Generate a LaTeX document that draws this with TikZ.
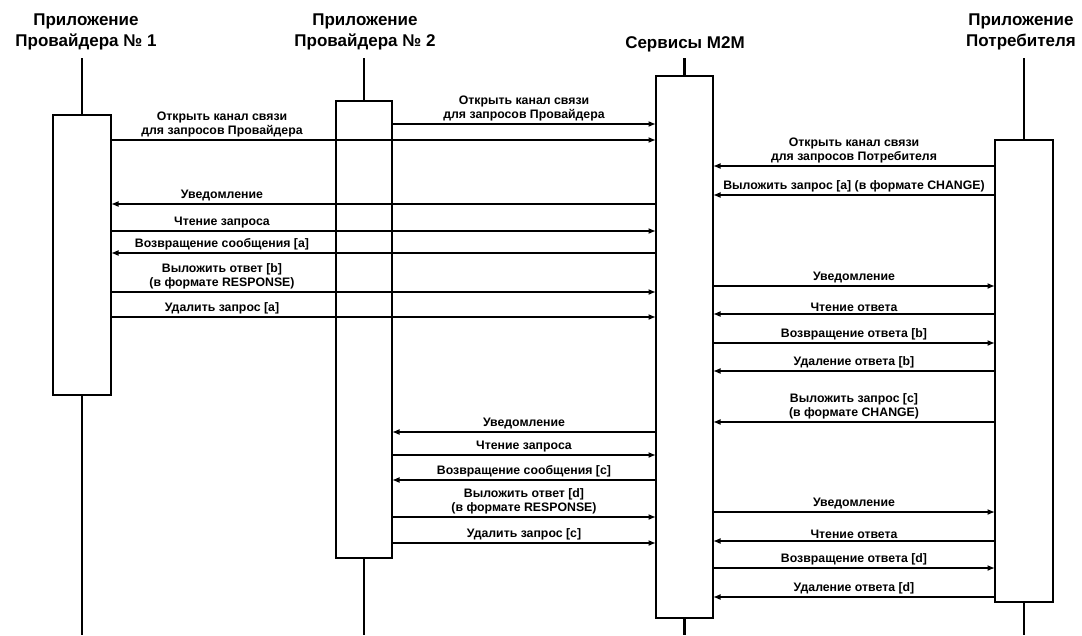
\documentclass[tikz,border=0pt]{standalone}
\usepackage{fontspec}
\setmainfont{Liberation Sans}
\usetikzlibrary{arrows.meta}
\begin{document}
\begin{tikzpicture}[x=1pt,y=-1pt,
  life/.style={line width=2.2pt},
  actbox/.style={draw, line width=2.4pt, fill=white, inner sep=0pt, outer sep=0pt},
  msg/.style={line width=2pt, -{Latex[length=7.5pt,width=6pt]}},
  lbl/.style={font=\fontsize{12.3}{14}\selectfont\bfseries, align=center, anchor=south, inner sep=1.5pt},
  hdr/.style={font=\fontsize{17}{20.5}\selectfont\bfseries, align=center, inner sep=0pt}]
\useasboundingbox (0,0) rectangle (1082,635);

% headers
\node[hdr] (h1) at (86,32) {Приложение\\Провайдера № 1};
\node[hdr] (h2) at (365,32) {Приложение\\Провайдера № 2};
\node[hdr] (h3) at (685,44) {Сервисы М2М};
\node[hdr] (h4) at (1021,32) {Приложение\\Потребителя};

% lifelines
\coordinate (t1) at (82,58);  \coordinate (e1) at (82,635);
\coordinate (t2) at (364,58); \coordinate (e2) at (364,635);
\coordinate (t3) at (684.5,58); \coordinate (e3) at (684.5,635);
\coordinate (t4) at (1024,58); \coordinate (e4) at (1024,635);
\draw[life] (t1) -- (e1);
\draw[life] (t2) -- (e2);
\draw[life] (t3) -- (e3);
\draw[life] (t4) -- (e4);

% activation boxes
\node[actbox, minimum width=58pt, minimum height=280pt] (b1) at (82,255) {};
\node[actbox, minimum width=56pt, minimum height=457pt] (b2) at (364,329.5) {};
\node[actbox, minimum width=57pt, minimum height=542pt] (b3) at (684.5,347) {};
\node[actbox, minimum width=58pt, minimum height=462pt] (b4) at (1024,371) {};

% ---- Provider 1 <-> M2M
\draw[msg] (b1.east |- 0,140) -- (b3.west |- 0,140);
\node[lbl] (m1) at (222,139) {Открыть канал связи\\для запросов Провайдера};
\draw[msg] (b3.west |- 0,204) -- (b1.east |- 0,204);
\node[lbl] (m2) at (222,203) {Уведомление};
\draw[msg] (b1.east |- 0,231) -- (b3.west |- 0,231);
\node[lbl] (m3) at (222,230) {Чтение запроса};
\draw[msg] (b3.west |- 0,253) -- (b1.east |- 0,253);
\node[lbl] (m4) at (222,252) {Возвращение сообщения [a]};
\draw[msg] (b1.east |- 0,292) -- (b3.west |- 0,292);
\node[lbl] (m5) at (222,291) {Выложить ответ [b]\\(в формате RESPONSE)};
\draw[msg] (b1.east |- 0,317) -- (b3.west |- 0,317);
\node[lbl] (m6) at (222,316) {Удалить запрос [a]};

% ---- Provider 2 <-> M2M
\draw[msg] (b2.east |- 0,124) -- (b3.west |- 0,124);
\node[lbl] (n1) at (524,123) {Открыть канал связи\\для запросов Провайдера};
\draw[msg] (b3.west |- 0,432) -- (b2.east |- 0,432);
\node[lbl] (n2) at (524,431) {Уведомление};
\draw[msg] (b2.east |- 0,455) -- (b3.west |- 0,455);
\node[lbl] (n3) at (524,454) {Чтение запроса};
\draw[msg] (b3.west |- 0,480) -- (b2.east |- 0,480);
\node[lbl] (n4) at (524,479) {Возвращение сообщения [c]};
\draw[msg] (b2.east |- 0,517) -- (b3.west |- 0,517);
\node[lbl] (n5) at (524,516) {Выложить ответ [d]\\(в формате RESPONSE)};
\draw[msg] (b2.east |- 0,543) -- (b3.west |- 0,543);
\node[lbl] (n6) at (524,542) {Удалить запрос [c]};

% ---- Consumer <-> M2M
\draw[msg] (b4.west |- 0,166) -- (b3.east |- 0,166);
\node[lbl] (k1) at (854,165) {Открыть канал связи\\для запросов Потребителя};
\draw[msg] (b4.west |- 0,195) -- (b3.east |- 0,195);
\node[lbl] (k2) at (854,194) {Выложить запрос [a] (в формате CHANGE)};
\draw[msg] (b3.east |- 0,286) -- (b4.west |- 0,286);
\node[lbl] (k3) at (854,285) {Уведомление};
\draw[msg] (b4.west |- 0,314) -- (b3.east |- 0,314);
\node[lbl] (k4) at (854,313) {Чтение ответа};
\draw[msg] (b3.east |- 0,343) -- (b4.west |- 0,343);
\node[lbl] (k5) at (854,342) {Возвращение ответа [b]};
\draw[msg] (b4.west |- 0,371) -- (b3.east |- 0,371);
\node[lbl] (k6) at (854,370) {Удаление ответа [b]};
\draw[msg] (b4.west |- 0,422) -- (b3.east |- 0,422);
\node[lbl] (k7) at (854,421) {Выложить запрос [c]\\(в формате CHANGE)};
\draw[msg] (b3.east |- 0,512) -- (b4.west |- 0,512);
\node[lbl] (k8) at (854,511) {Уведомление};
\draw[msg] (b4.west |- 0,541) -- (b3.east |- 0,541);
\node[lbl] (k9) at (854,540) {Чтение ответа};
\draw[msg] (b3.east |- 0,568) -- (b4.west |- 0,568);
\node[lbl] (k10) at (854,567) {Возвращение ответа [d]};
\draw[msg] (b4.west |- 0,597) -- (b3.east |- 0,597);
\node[lbl] (k11) at (854,596) {Удаление ответа [d]};
\end{tikzpicture}
\end{document}
